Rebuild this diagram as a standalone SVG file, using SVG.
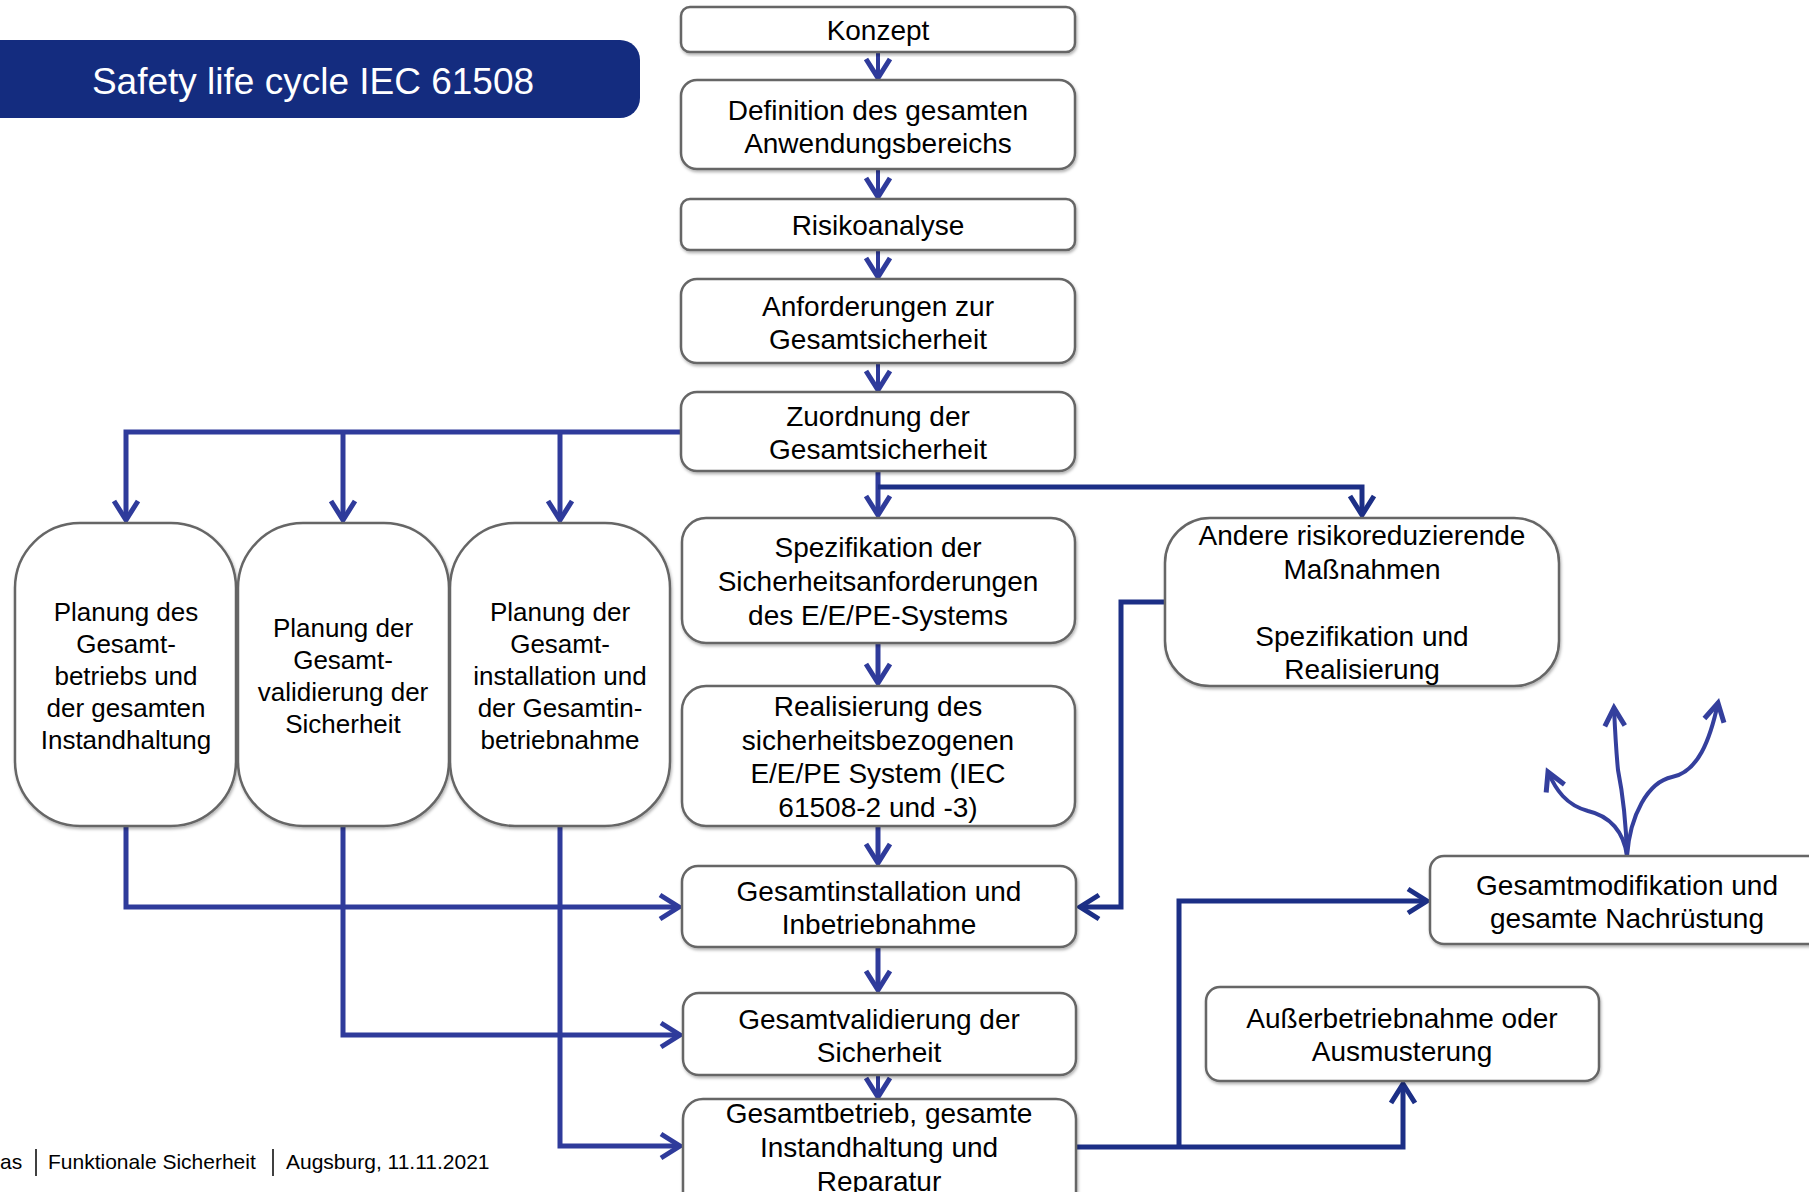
<svg xmlns="http://www.w3.org/2000/svg" width="1809" height="1192" viewBox="0 0 1809 1192">
<defs>
<style>
.box{fill:#fff;stroke:#666;stroke-width:2.5;filter:url(#sh)}
.t{font-family:"Liberation Sans",Arial,sans-serif;font-size:28px;fill:#000;text-anchor:middle}
.ts{font-family:"Liberation Sans",Arial,sans-serif;font-size:26px;fill:#000;text-anchor:middle}
.c{fill:none;stroke:#2f3b9b;stroke-width:5;stroke-linejoin:miter}
.cd{fill:none;stroke:#1c2f86;stroke-width:5}
.cs{fill:none;stroke:#2f3b9b;stroke-width:4}
.cv{fill:none;stroke:#343f9d;stroke-width:4;stroke-linecap:round}
</style>
<filter id="sh" x="-5%" y="-5%" width="110%" height="115%">
<feDropShadow dx="1" dy="2" stdDeviation="1.5" flood-color="#000" flood-opacity="0.3"/>
</filter>
<marker id="a" markerUnits="userSpaceOnUse" markerWidth="40" markerHeight="40" viewBox="-25 -20 30 40" refX="0" refY="0" orient="auto">
<path d="M-19,-12 L0,0 L-19,12" fill="none" stroke="#2f3b9b" stroke-width="5"/>
</marker>
<marker id="ad" markerUnits="userSpaceOnUse" markerWidth="40" markerHeight="40" viewBox="-25 -20 30 40" refX="0" refY="0" orient="auto">
<path d="M-19,-12 L0,0 L-19,12" fill="none" stroke="#1c2f86" stroke-width="5"/>
</marker>
<marker id="av" markerUnits="userSpaceOnUse" markerWidth="40" markerHeight="40" viewBox="-25 -20 30 40" refX="0" refY="0" orient="auto">
<path d="M-18,-10 L0,0 L-18,10" fill="none" stroke="#343f9d" stroke-width="5"/>
</marker>
</defs>
<rect width="1809" height="1192" fill="#fff"/>

<g id="title">
<rect x="-30" y="40" width="670" height="78" rx="20" fill="#142c7f"/>
<text x="313" y="94" font-family="'Liberation Sans',Arial,sans-serif" font-size="37" fill="#fff" text-anchor="middle">Safety life cycle IEC 61508</text>
</g>

<g id="connectors">
<path class="cs" d="M878,52 V78" marker-end="url(#a)"/>
<path class="cs" d="M878,169 V197" marker-end="url(#a)"/>
<path class="cs" d="M878,250 V277" marker-end="url(#a)"/>
<path class="cs" d="M878,363 V390" marker-end="url(#a)"/>
<path class="c" d="M681,432 H126 V520" marker-end="url(#a)"/>
<path class="c" d="M343,432 V520" marker-end="url(#a)"/>
<path class="c" d="M560,432 V520" marker-end="url(#a)"/>
<path class="c" d="M878,471 V515" marker-end="url(#a)"/>
<path class="cd" d="M878,487 H1362 V515" marker-end="url(#ad)"/>
<path class="c" d="M878,643 V683" marker-end="url(#a)"/>
<path class="c" d="M878,826 V863" marker-end="url(#a)"/>
<path class="c" d="M878,947 V990" marker-end="url(#a)"/>
<path class="cs" d="M878,1075 V1097" marker-end="url(#a)"/>
<path class="c" d="M126,826 V907 H679" marker-end="url(#a)"/>
<path class="c" d="M343,826 V1035 H680" marker-end="url(#a)"/>
<path class="c" d="M560,826 V1146 H680" marker-end="url(#a)"/>
<path class="cd" d="M1165,602 H1121 V907 H1080" marker-end="url(#ad)"/>
<path class="cd" d="M1075,1147 H1403 V1084" marker-end="url(#ad)"/>
<path class="cd" d="M1179,1147 V901 H1427" marker-end="url(#ad)"/>
<path class="cv" d="M1627,856 C1624,832 1610,816 1588,811 C1566,805 1556,790 1548,772" marker-end="url(#av)"/>
<path class="cv" d="M1627,856 C1626,820 1622,790 1618,770 C1616,750 1615,730 1614,708" marker-end="url(#av)"/>
<path class="cv" d="M1627,856 C1630,815 1648,782 1672,777 C1698,772 1710,740 1718,703" marker-end="url(#av)"/>
</g>

<g id="konzept"><rect class="box" x="681" y="7" width="394" height="45" rx="9"/><text class="t" x="878" y="40">Konzept</text></g>
<g id="definition"><rect class="box" x="681" y="80" width="394" height="89" rx="16"/><text class="t" x="878" y="120">Definition des gesamten</text><text class="t" x="878" y="153">Anwendungsbereichs</text></g>
<g id="risikoanalyse"><rect class="box" x="681" y="199" width="394" height="51" rx="9"/><text class="t" x="878" y="235">Risikoanalyse</text></g>
<g id="anforderungen"><rect class="box" x="681" y="279" width="394" height="84" rx="16"/><text class="t" x="878" y="316">Anforderungen zur</text><text class="t" x="878" y="349">Gesamtsicherheit</text></g>
<g id="zuordnung"><rect class="box" x="681" y="392" width="394" height="79" rx="16"/><text class="t" x="878" y="426">Zuordnung der</text><text class="t" x="878" y="459">Gesamtsicherheit</text></g>

<g id="planung1"><rect class="box" x="15" y="523" width="221" height="303" rx="65"/>
<text class="ts" x="126" y="621">Planung des</text><text class="ts" x="126" y="653">Gesamt-</text><text class="ts" x="126" y="685">betriebs und</text><text class="ts" x="126" y="717">der gesamten</text><text class="ts" x="126" y="749">Instandhaltung</text></g>
<g id="planung2"><rect class="box" x="238" y="523" width="211" height="303" rx="65"/>
<text class="ts" x="343" y="637">Planung der</text><text class="ts" x="343" y="669">Gesamt-</text><text class="ts" x="343" y="701">validierung der</text><text class="ts" x="343" y="733">Sicherheit</text></g>
<g id="planung3"><rect class="box" x="450" y="523" width="220" height="303" rx="65"/>
<text class="ts" x="560" y="621">Planung der</text><text class="ts" x="560" y="653">Gesamt-</text><text class="ts" x="560" y="685">installation und</text><text class="ts" x="560" y="717">der Gesamtin-</text><text class="ts" x="560" y="749">betriebnahme</text></g>

<g id="spezifikation"><rect class="box" x="682" y="518" width="393" height="125" rx="24"/>
<text class="t" x="878" y="557">Spezifikation der</text><text class="t" x="878" y="591">Sicherheitsanforderungen</text><text class="t" x="878" y="625">des E/E/PE-Systems</text></g>
<g id="realisierung"><rect class="box" x="682" y="686" width="393" height="140" rx="24"/>
<text class="t" x="878" y="716">Realisierung des</text><text class="t" x="878" y="750">sicherheitsbezogenen</text><text class="t" x="878" y="783">E/E/PE System (IEC</text><text class="t" x="878" y="817">61508-2 und -3)</text></g>
<g id="gesamtinstallation"><rect class="box" x="682" y="866" width="394" height="81" rx="16"/>
<text class="t" x="879" y="901">Gesamtinstallation und</text><text class="t" x="879" y="934">Inbetriebnahme</text></g>
<g id="gesamtvalidierung"><rect class="box" x="683" y="993" width="393" height="82" rx="16"/>
<text class="t" x="879" y="1029">Gesamtvalidierung der</text><text class="t" x="879" y="1062">Sicherheit</text></g>
<g id="gesamtbetrieb"><rect class="box" x="683" y="1099" width="393" height="120" rx="20"/>
<text class="t" x="879" y="1123">Gesamtbetrieb, gesamte</text><text class="t" x="879" y="1157">Instandhaltung und</text><text class="t" x="879" y="1191">Reparatur</text></g>

<g id="andere"><rect class="box" x="1165" y="518" width="394" height="168" rx="45"/>
<text class="t" x="1362" y="545">Andere risikoreduzierende</text><text class="t" x="1362" y="579">Maßnahmen</text><text class="t" x="1362" y="646">Spezifikation und</text><text class="t" x="1362" y="679">Realisierung</text></g>
<g id="gesamtmodifikation"><rect class="box" x="1430" y="856" width="400" height="88" rx="14"/>
<text class="t" x="1627" y="895">Gesamtmodifikation und</text><text class="t" x="1627" y="928">gesamte Nachrüstung</text></g>
<g id="ausserbetriebnahme"><rect class="box" x="1206" y="987" width="393" height="94" rx="14"/>
<text class="t" x="1402" y="1028">Außerbetriebnahme oder</text><text class="t" x="1402" y="1061">Ausmusterung</text></g>

<g id="footer" font-family="'Liberation Sans',Arial,sans-serif" font-size="21" fill="#000">
<text x="0" y="1169">as</text>
<line x1="36" y1="1149" x2="36" y2="1176" stroke="#000" stroke-width="1.5"/>
<text x="48" y="1169">Funktionale Sicherheit</text>
<line x1="273" y1="1149" x2="273" y2="1176" stroke="#000" stroke-width="1.5"/>
<text x="286" y="1169">Augsburg, 11.11.2021</text>
</g>
</svg>
